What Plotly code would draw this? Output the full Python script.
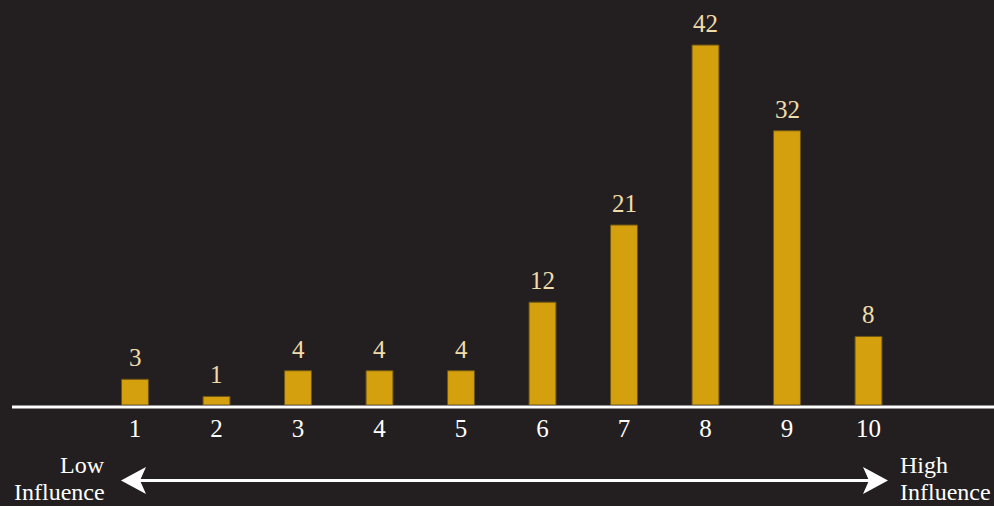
import plotly.graph_objects as go

# Influence rating (1 = low, 10 = high) and number of responses
ratings = [1, 2, 3, 4, 5, 6, 7, 8, 9, 10]
tick_labels = ["1", "2", "3", "4", "5", "6", "7", "8", "9", "10"]
counts = [3, 1, 4, 4, 4, 12, 21, 42, 32, 8]

W, H = 994, 506
PLOT_BOTTOM = 405          # pixel row of the plot floor
BG = "#231f20"
GOLD = "#d4a00e"
GOLD_EDGE = "#6e5514"
CREAM = "#f0dcaa"
FONT = "Liberation Serif"


def px(x):
    return x / W


def py(y):
    return (PLOT_BOTTOM - y) / PLOT_BOTTOM


fig = go.Figure()
fig.add_trace(go.Bar(
    x=ratings,
    y=counts,
    width=0.33,
    marker=dict(color=GOLD, line=dict(color=GOLD_EDGE, width=1)),
    hoverinfo="skip",
))

# value labels above each bar
for r, c in zip(ratings, counts):
    fig.add_annotation(
        x=r, y=c, xref="x", yref="y", text=str(c), showarrow=False,
        yanchor="bottom", yshift=6,
        font=dict(family=FONT, size=25, color=CREAM),
    )

# baseline
fig.add_shape(type="line", xref="paper", yref="paper",
              x0=px(12), x1=1, y0=py(407), y1=py(407),
              line=dict(color="white", width=3))

# double-headed influence arrow
fig.add_shape(type="line", xref="paper", yref="paper",
              x0=px(140), x1=px(869), y0=py(480.5), y1=py(480.5),
              line=dict(color="white", width=3))


def head(points):
    d = "M " + " L ".join(f"{px(x):.5f},{py(y):.5f}" for x, y in points) + " Z"
    return d


fig.add_shape(type="path", xref="paper", yref="paper",
              path=head([(121, 480.5), (146, 467), (140, 480.5), (146, 494)]),
              fillcolor="white", line=dict(color="white", width=0))
fig.add_shape(type="path", xref="paper", yref="paper",
              path=head([(888, 480.5), (863, 467), (869, 480.5), (863, 494)]),
              fillcolor="white", line=dict(color="white", width=0))

end_labels = [
    ("Low", 106, 479, "right"),
    ("Influence", 106, 506, "right"),
    ("High", 899, 479, "left"),
    ("Influence", 899, 506, "left"),
]
for txt, x, y, side in end_labels:
    fig.add_annotation(
        x=px(x), y=py(y), xref="paper", yref="paper", text=txt,
        showarrow=False, xanchor=side, yanchor="bottom",
        borderpad=0,
        font=dict(family=FONT, size=24, color="white"),
    )

# map ratings 1 and 10 onto pixel columns 135 and 868.5
x_per_px = 9 / (868.5 - 135)
x_min = 1 - 135 * x_per_px
x_max = x_min + W * x_per_px
y_max = PLOT_BOTTOM / 8.57

fig.update_layout(
    width=W, height=H,
    paper_bgcolor=BG, plot_bgcolor=BG,
    margin=dict(l=0, r=0, t=0, b=H - PLOT_BOTTOM),
    showlegend=False,
    xaxis=dict(
        range=[x_min, x_max], tickmode="array", tickvals=ratings,
        ticktext=tick_labels, showgrid=False, zeroline=False,
        showline=False, ticks="", ticklabelstandoff=6,
        tickfont=dict(family=FONT, size=25, color="white"),
        fixedrange=True,
    ),
    yaxis=dict(range=[0, y_max], visible=False, showgrid=False,
               zeroline=False, fixedrange=True),
)

fig.write_html("out.html")
